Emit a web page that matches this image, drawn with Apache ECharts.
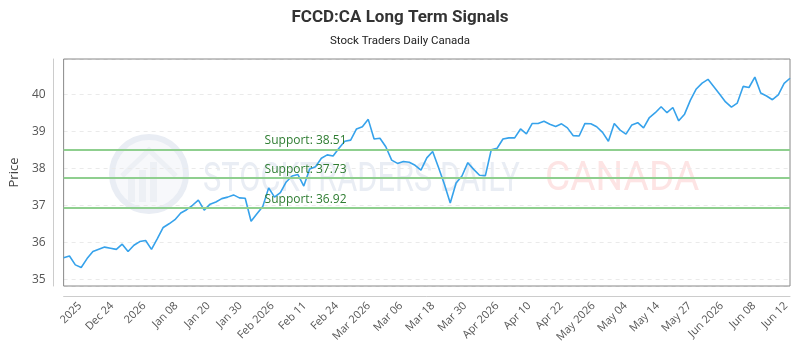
<!DOCTYPE html>
<html>
<head>
<meta charset="utf-8">
<script src="https://cdn.jsdelivr.net/npm/echarts@6/dist/echarts.min.js"></script>
<style>html,body{margin:0;padding:0;background:#fff}#c{width:800px;height:350px}</style>
</head>
<body>
<div id="c"></div>
<script>
// Daily closing prices
const prices = [
  35.58, 35.63, 35.39, 35.32, 35.56, 35.75, 35.81, 35.87, 35.84, 35.81,
  35.95, 35.75, 35.92, 36.02, 36.05, 35.81, 36.10, 36.40, 36.50, 36.61,
  36.79, 36.88, 37.00, 37.14, 36.87, 37.03, 37.09, 37.18, 37.22, 37.28,
  37.20, 37.19, 36.57, 36.77, 36.97, 37.47, 37.22, 37.34, 37.63, 37.79,
  37.83, 37.52, 37.98, 38.04, 38.27, 38.36, 38.33, 38.54, 38.73, 38.76,
  39.06, 39.12, 39.32, 38.79, 38.81, 38.58, 38.22, 38.13, 38.18, 38.16,
  38.08, 37.95, 38.28, 38.45, 38.02, 37.57, 37.06, 37.60, 37.79, 38.15,
  37.97, 37.81, 37.80, 38.50, 38.54, 38.79, 38.82, 38.82, 39.06, 38.93,
  39.21, 39.21, 39.27, 39.19, 39.13, 39.20, 39.09, 38.88, 38.87, 39.21,
  39.20, 39.12, 38.97, 38.73, 39.21, 39.03, 38.92, 39.17, 39.23, 39.09,
  39.37, 39.50, 39.66, 39.50, 39.64, 39.28, 39.46, 39.84, 40.14, 40.30,
  40.40, 40.20, 40.00, 39.79, 39.65, 39.76, 40.21, 40.18, 40.46, 40.03,
  39.95, 39.85, 39.98, 40.29, 40.43
];
const categories = prices.map((_, i) => i);
const xTickLabels = ['2025','Dec 24','2026','Jan 08','Jan 20','Jan 30','Feb 2026','Feb 11','Feb 24',
  'Mar 2026','Mar 06','Mar 18','Mar 30','Apr 2026','Apr 10','Apr 22','May 2026','May 04','May 14',
  'May 27','Jun 2026','Jun 08','Jun 12'];
const supports = [38.51, 37.73, 36.92];
const yMin = 34.82, yMax = 40.95;

const chart = echarts.init(document.getElementById('c'), null, {renderer: 'canvas'});
const axisTextColor = '#555';
const wm = '#e9edf4';
chart.setOption({
  animation: false,
  backgroundColor: '#fff',
  title: {
    text: 'FCCD:CA Long Term Signals',
    subtext: 'Stock Traders Daily Canada',
    left: 'center',
    top: 4,
    itemGap: 9,
    textStyle: {fontFamily: 'Roboto', fontWeight: 'bold', fontSize: 17, color: '#333'},
    subtextStyle: {fontFamily: 'Roboto', fontSize: 11.5, color: '#222'}
  },
  graphic: [
    {type: 'circle', shape: {cx: 149, cy: 174, r: 37}, style: {fill: '#f7f8fb', stroke: wm, lineWidth: 6}, z: 0, silent: true},
    {type: 'rect', shape: {x: 128, y: 178, width: 7, height: 24}, style: {fill: '#edf0f5'}, z: 0, silent: true},
    {type: 'rect', shape: {x: 139, y: 170, width: 7, height: 32}, style: {fill: '#edf0f5'}, z: 0, silent: true},
    {type: 'rect', shape: {x: 150, y: 162, width: 7, height: 40}, style: {fill: '#edf0f5'}, z: 0, silent: true},
    {type: 'polyline', shape: {points: [[122, 176], [149, 150], [176, 176]]}, style: {stroke: '#edf0f5', lineWidth: 5, fill: 'none'}, z: 0, silent: true},
    {type: 'text', x: 203, y: 161, scaleX: 0.77, style: {text: 'STOCKTRADERS DAILY', fontSize: 40, fontFamily: 'Roboto', fill: wm, verticalAlign: 'top'}, z: 0, silent: true},
    {type: 'text', x: 545, y: 160, scaleX: 0.97, style: {text: 'CANADA', fontSize: 40, fontFamily: 'Roboto', fill: '#fde4e4', verticalAlign: 'top'}, z: 0, silent: true}
  ],
  grid: [
    {left: 60, right: 10, top: 59, bottom: 64, show: true, borderColor: '#888', borderWidth: 1, backgroundColor: 'transparent', z: 1},
    {left: 80, right: 14, top: 59, bottom: 64, show: false}
  ],
  xAxis: [
    {type: 'category', gridIndex: 0, data: categories, boundaryGap: false, offset: 10,
     axisLine: {show: true, lineStyle: {color: '#ccc'}}, axisTick: {show: false}, axisLabel: {show: false}, splitLine: {show: false}},
    {type: 'category', gridIndex: 1, data: xTickLabels, boundaryGap: false, offset: 10,
     axisLine: {show: false}, axisTick: {show: false}, splitLine: {show: false},
     axisLabel: {interval: 0, rotate: 45, margin: 8, fontSize: 11, fontFamily: 'Open Sans', color: axisTextColor}}
  ],
  yAxis: [
    {type: 'value', gridIndex: 0, min: yMin, max: yMax, offset: 10,
     name: 'Price', nameLocation: 'middle', nameGap: 28, nameTextStyle: {fontFamily: 'Open Sans', fontSize: 13, color: '#444'},
     axisLine: {show: true, lineStyle: {color: '#ccc'}}, axisTick: {show: false},
     axisLabel: {showMinLabel: false, showMaxLabel: false, fontFamily: 'Open Sans', fontSize: 12, color: axisTextColor,
       formatter: v => (Math.abs(v - Math.round(v)) < 1e-6 ? String(Math.round(v)) : '')},
     splitLine: {show: true, lineStyle: {color: '#eaeaea', type: [4, 4]}}},
    {type: 'value', gridIndex: 1, show: false}
  ],
  series: [{
    type: 'line',
    xAxisIndex: 0, yAxisIndex: 0,
    data: prices,
    showSymbol: false,
    lineStyle: {color: '#36a2eb', width: 1.6},
    itemStyle: {color: '#36a2eb'},
    z: 3,
    markLine: {
      silent: true,
      symbol: 'none',
      lineStyle: {color: '#8fcf8f', width: 2, type: 'solid'},
      label: {position: 'insideStartTop', distance: [201, 3], formatter: p => 'Support: ' + p.value.toFixed(2),
              color: '#2f7d32', fontSize: 12, fontFamily: 'Open Sans'},
      data: supports.map(v => ({yAxis: v}))
    }
  }]
});
</script>
</body>
</html>
